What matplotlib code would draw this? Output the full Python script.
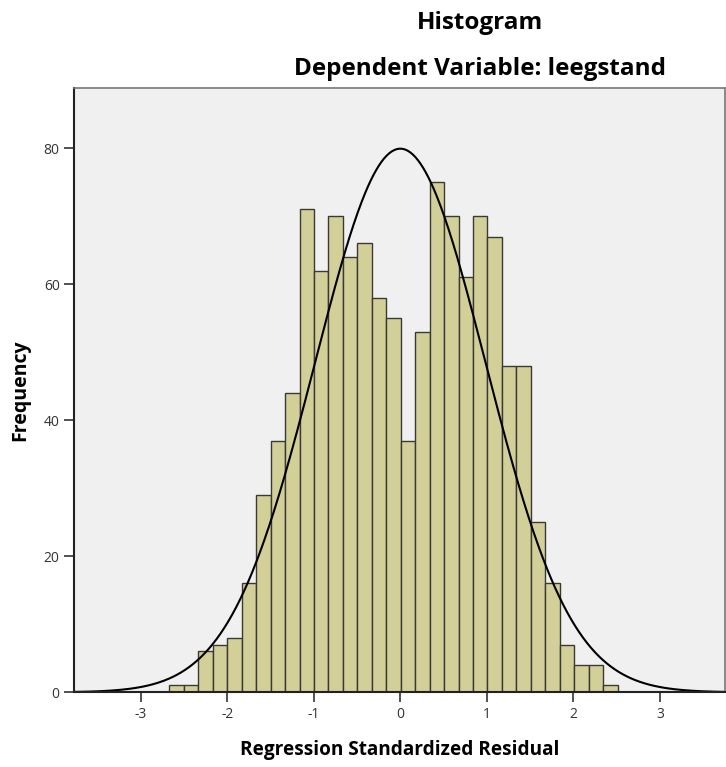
import matplotlib
matplotlib.use("Agg")
import matplotlib.pyplot as plt
import numpy as np

plt.rcParams["axes.unicode_minus"] = False
plt.rcParams["font.family"] = ["Open Sans", "DejaVu Sans"]

# histogram of regression standardized residuals (counts)
first_edge = -2.669
bin_width = 0.1671
counts = [1, 1, 6, 7, 8, 16, 29, 37, 44, 71, 62, 70, 64, 66, 58, 55,
          37, 53, 75, 70, 61, 70, 67, 48, 48, 25, 16, 7, 4, 4, 1]
# normal curve parameters
mean = 0.0
std_dev = 0.985
n_total = 1181

x_ticks = [-3, -2, -1, 0, 1, 2, 3]
y_ticks = [0, 20, 40, 60, 80]

edges = first_edge + bin_width * np.arange(len(counts) + 1)

fig = plt.figure(figsize=(7.26, 7.67), dpi=100)
ax = fig.add_axes([0.1023, 0.0974, 0.8963, 0.7883])
ax.set_facecolor("#f0f0f0")

ax.bar(edges[:-1], counts, width=bin_width, align="edge",
       color="#d3cf98", edgecolor="#3a3a35", linewidth=1.0)

xs = np.linspace(-3.8, 3.8, 500)
curve = n_total * bin_width / (std_dev * np.sqrt(2 * np.pi)) * np.exp(-0.5 * ((xs - mean) / std_dev) ** 2)
ax.plot(xs, curve, color="black", lw=1.5)

ax.set_xlim(-3.768, 3.752)
ax.set_ylim(0, 88.9)
ax.set_xticks(x_ticks)
ax.set_yticks(y_ticks)
ax.tick_params(direction="out", length=7, width=1.2, colors="#333333",
               labelsize=10, labelcolor="#333333")

for side in ["left", "bottom"]:
    ax.spines[side].set_color("#222222")
    ax.spines[side].set_linewidth(1.5)
for side in ["top", "right"]:
    ax.spines[side].set_color("#777777")
    ax.spines[side].set_linewidth(1.2)

ax.set_xlabel("Regression Standardized Residual", fontsize=13.7, fontweight="bold", labelpad=13)
ax.set_ylabel("Frequency", fontsize=14, fontweight="bold", labelpad=10)

fig.text(0.661, 0.970, "Histogram", ha="center", va="center", fontsize=17.5, fontweight="bold")
fig.text(0.661, 0.910, "Dependent Variable: leegstand", ha="center", va="center",
         fontsize=17.5, fontweight="bold")

fig.savefig("out.png", dpi=100)
